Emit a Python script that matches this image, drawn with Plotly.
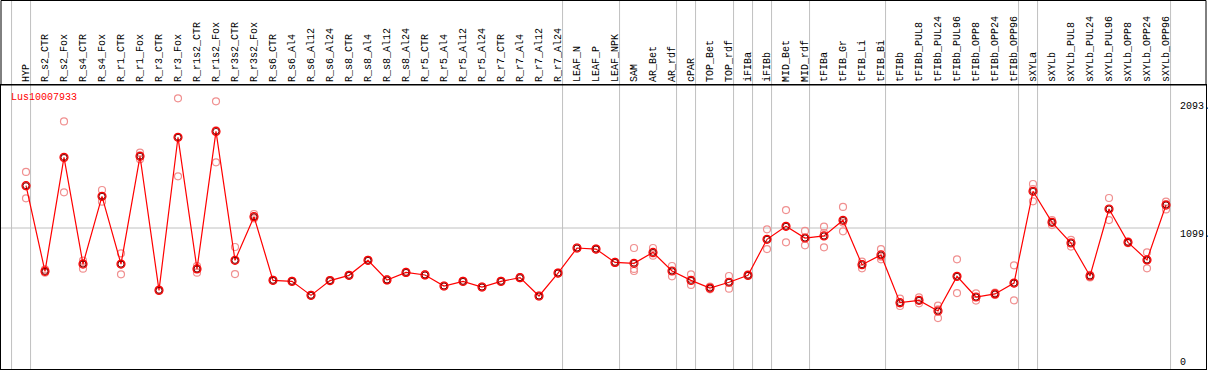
import plotly.graph_objects as go

categories = [
    "HYP", "R_s2_CTR", "R_s2_Fox", "R_s4_CTR", "R_s4_Fox", "R_r1_CTR", "R_r1_Fox",
    "R_r3_CTR", "R_r3_Fox", "R_r1s2_CTR", "R_r1s2_Fox", "R_r3s2_CTR", "R_r3s2_Fox",
    "R_s6_CTR", "R_s6_Al4", "R_s6_Al12", "R_s6_Al24", "R_s8_CTR", "R_s8_Al4",
    "R_s8_Al12", "R_s8_Al24", "R_r5_CTR", "R_r5_Al4", "R_r5_Al12", "R_r5_Al24",
    "R_r7_CTR", "R_r7_Al4", "R_r7_Al12", "R_r7_Al24", "LEAF_N", "LEAF_P", "LEAF_NPK",
    "SAM", "AR_Bet", "AR_rdf", "cPAR", "TOP_Bet", "TOP_rdf", "iFIBa", "iFIBb",
    "MID_Bet", "MID_rdf", "tFIBa", "tFIB_Gr", "tFIB_Li", "tFIB_Bi", "tFIBb",
    "tFIBb_PUL8", "tFIBb_PUL24", "tFIBb_PUL96", "tFIBb_OPP8", "tFIBb_OPP24",
    "tFIBb_OPP96", "sXYLa", "sXYLb", "sXYLb_PUL8", "sXYLb_PUL24", "sXYLb_PUL96",
    "sXYLb_OPP8", "sXYLb_OPP24", "sXYLb_OPP96",
]

mean_vals = [
    1429, 761, 1650, 818, 1346, 818, 1658, 613, 1806, 780, 1852, 847, 1187,
    691, 683, 574, 689, 730, 847, 694, 753, 733, 647, 683, 639, 683, 712, 569, 748,
    943, 935, 831, 824, 909, 764, 691, 631, 676, 730, 1011, 1112, 1021, 1037, 1159,
    813, 889, 517, 535, 452, 722, 561, 585, 670, 1385, 1143, 982, 725, 1247, 987,
    850, 1278,
]

rep1 = [
    1536, 777, 1930, 844, 1395, 902, 1686, 618, 2110, 803, 2086, 951, 1208,
    695, 687, 578, 693, 734, 851, 698, 757, 737, 651, 687, 643, 687, 716, 573, 752,
    947, 939, 835, 943, 943, 803, 738, 642, 725, 738, 1089, 1239, 1076, 1109, 1263,
    837, 935, 548, 559, 494, 855, 590, 595, 808, 1442, 1161, 1006, 733, 1333, 995,
    909, 1304,
]

rep2 = [
    1424, 761, 1642, 824, 1343, 816, 1665, 613, 1806, 780, 1860, 847, 1182,
    691, 683, 574, 689, 730, 847, 694, 753, 733, 647, 683, 639, 683, 712, 569, 748,
    943, 935, 831, 780, 902, 764, 686, 631, 676, 730, 1011, 1112, 1021, 1060, 1141,
    818, 875, 512, 535, 465, 720, 561, 585, 668, 1403, 1143, 985, 727, 1247, 987,
    850, 1286,
]

rep3 = [
    1330, 751, 1377, 782, 1304, 738, 1634, 608, 1502, 751, 1611, 740, 1174,
    687, 679, 570, 685, 726, 843, 690, 749, 729, 643, 679, 635, 679, 708, 565, 744,
    939, 931, 827, 764, 883, 722, 655, 621, 626, 725, 935, 987, 964, 948, 1073,
    785, 855, 491, 512, 397, 592, 533, 577, 535, 1307, 1122, 954, 714, 1161, 980,
    785, 1244,
]

# index of the last category in each group (-1 = before the first)
group_ends = [-1, 0, 28, 31, 34, 35, 37, 38, 39, 41, 45, 52, 53, 60]

y_tick_vals = [2093, 1099, 0]
y_tick_text = ["2093.", "1099.", "0"]
gene = "Lus10007933"

MONO = "Liberation Mono"
x = list(range(len(categories)))

fig = go.Figure()
for reps in (rep1, rep2, rep3):
    fig.add_trace(go.Scatter(
        x=x, y=reps, mode="markers",
        marker=dict(symbol="circle-open", size=7, color="#f09090", line=dict(width=1.2)),
        hoverinfo="skip", showlegend=False,
    ))
fig.add_trace(go.Scatter(
    x=x, y=mean_vals, mode="lines+markers",
    line=dict(color="#ff0000", width=1.2),
    marker=dict(symbol="circle-open", size=8, color="#ff0000", line=dict(width=1.2)),
    showlegend=False,
))
fig.add_trace(go.Scatter(
    x=x, y=mean_vals, mode="markers",
    marker=dict(symbol="circle-open", size=6, color="#700000", line=dict(width=0.9)),
    hoverinfo="skip", showlegend=False,
))

x_lo, x_hi = -1.3158, 62.105
sep_off = 0.24
top_paper = 1 + 84.5 / 284

shapes = []
for g in group_ends:
    shapes.append(dict(type="line", xref="x", yref="paper", x0=g + sep_off, x1=g + sep_off,
                       y0=0, y1=top_paper, line=dict(color="#c0c0c0", width=1), layer="below"))
shapes.append(dict(type="line", xref="x", yref="y", x0=x_lo, x1=group_ends[-1] + sep_off,
                   y0=y_tick_vals[1], y1=y_tick_vals[1], line=dict(color="#c0c0c0", width=1),
                   layer="below"))
shapes.append(dict(type="rect", xref="paper", yref="paper", x0=0, x1=1, y0=1, y1=top_paper,
                   line=dict(color="black", width=1), fillcolor="rgba(0,0,0,0)"))

annotations = [dict(text=gene, xref="paper", yref="paper", x=8 / 1205, y=(369 - 97) / 284,
                    xanchor="left", yanchor="middle", showarrow=False,
                    font=dict(family=MONO, size=10, color="#ff0000"))]
for v, t in zip(y_tick_vals, y_tick_text):
    annotations.append(dict(text=t, xref="x", yref="y", x=60.68, y=v,
                            xanchor="left", yanchor="bottom" if v == 0 else "top",
                            showarrow=False, borderpad=0,
                            font=dict(family=MONO, size=10, color="black")))

fig.update_layout(
    width=1209, height=370,
    margin=dict(l=1, r=3, t=85, b=1, pad=0),
    paper_bgcolor="white", plot_bgcolor="white",
    xaxis=dict(range=[x_lo, x_hi], side="top", tickmode="array", tickvals=x,
               ticktext=categories, tickangle=-90,
               tickfont=dict(family=MONO, size=10, color="black"),
               showgrid=False, zeroline=False, showline=True, mirror=True,
               linecolor="black", linewidth=1, ticks=""),
    yaxis=dict(range=[0, 2213.6], showticklabels=False, showgrid=False, zeroline=False,
               showline=True, mirror=True, linecolor="black", linewidth=1, ticks=""),
    shapes=shapes, annotations=annotations,
)

fig.write_html("out.html", config={"displayModeBar": False},
               post_script="document.body.style.margin='0px';")
